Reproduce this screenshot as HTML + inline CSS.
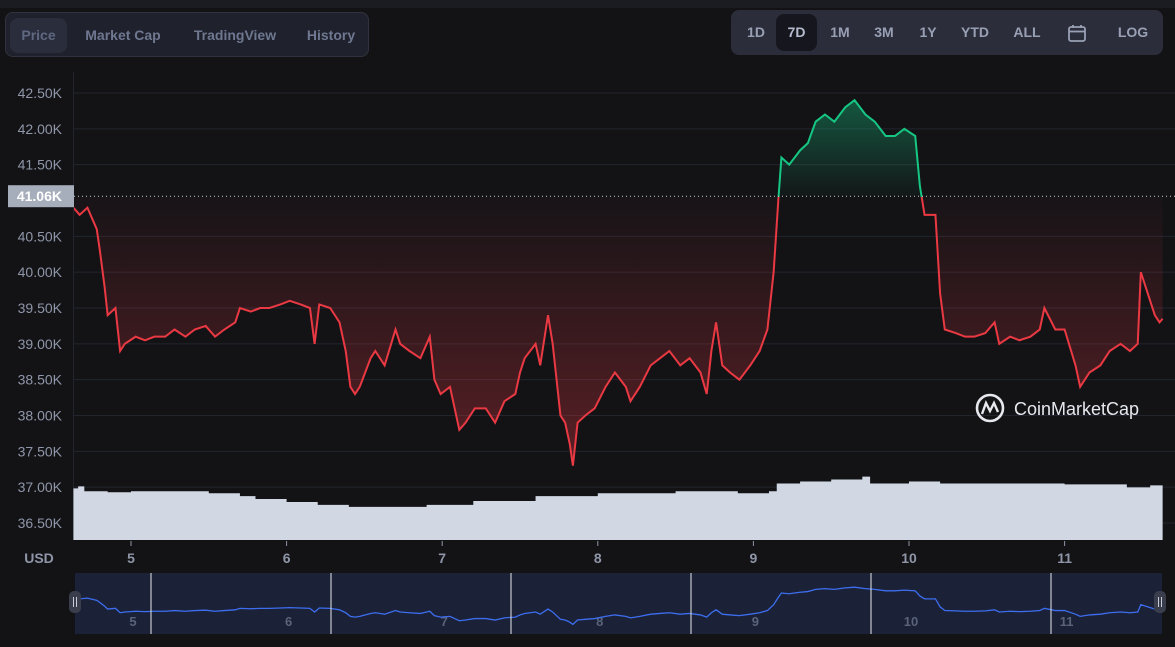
<!DOCTYPE html>
<html><head><meta charset="utf-8"><style>
body{margin:0;background:#131316;width:1175px;height:647px;overflow:hidden;font-family:"Liberation Sans",sans-serif}
.tabs{position:absolute;left:5px;top:12px;width:364px;height:45px;background:#1f212c;border:1px solid #30333f;border-radius:8px;box-sizing:border-box}
.tab{position:absolute;top:5px;height:35px;line-height:35px;font-size:14px;font-weight:bold;color:#6f7891;text-align:center}
.rng{position:absolute;left:731px;top:10px;width:432px;height:45px;background:#2b2d3b;border-radius:8px}
.r{position:absolute;top:4px;height:37px;line-height:37px;font-size:14px;font-weight:bold;color:#99a0b4;text-align:center}
</style></head><body>
<div style="position:absolute;left:0;top:0;width:1175px;height:8px;background:#1b1c22"></div>
<div class="tabs">
<div class="tab" style="left:4px;width:57px;background:#2a2d3c;border-radius:8px;color:#5f6880">Price</div>
<div class="tab" style="left:70px;width:94px">Market Cap</div>
<div class="tab" style="left:180px;width:98px">TradingView</div>
<div class="tab" style="left:292px;width:66px">History</div>
</div>
<div class="rng">
<div class="r" style="left:6px;width:38px">1D</div>
<div class="r" style="left:45px;width:41px;background:#16171e;border-radius:8px;color:#b6bccd">7D</div>
<div class="r" style="left:90px;width:38px">1M</div>
<div class="r" style="left:134px;width:38px">3M</div>
<div class="r" style="left:178px;width:38px">1Y</div>
<div class="r" style="left:222px;width:44px">YTD</div>
<div class="r" style="left:274px;width:44px">ALL</div>
<div class="r" style="left:330px;width:32px"><svg width="20" height="20" viewBox="0 0 20 20" style="vertical-align:middle"><rect x="2" y="4" width="16" height="14" rx="2" fill="none" stroke="#99a0b4" stroke-width="1.8"/><line x1="2" y1="8.5" x2="18" y2="8.5" stroke="#99a0b4" stroke-width="1.8"/><line x1="6" y1="2" x2="6" y2="5" stroke="#99a0b4" stroke-width="1.8"/><line x1="14" y1="2" x2="14" y2="5" stroke="#99a0b4" stroke-width="1.8"/></svg></div>
<div class="r" style="left:380px;width:44px">LOG</div>
</div>
<svg id="chart" width="1175" height="647" style="position:absolute;left:0;top:0">
<defs>
<linearGradient id="gg" gradientUnits="userSpaceOnUse" x1="0" y1="95" x2="0" y2="197"><stop offset="0" stop-color="#16c784" stop-opacity="0.4"/><stop offset="1" stop-color="#16c784" stop-opacity="0.02"/></linearGradient>
<linearGradient id="rg" gradientUnits="userSpaceOnUse" x1="0" y1="197" x2="0" y2="440"><stop offset="0" stop-color="#ea3943" stop-opacity="0.02"/><stop offset="1" stop-color="#ea3943" stop-opacity="0.3"/></linearGradient>
<clipPath id="above"><rect x="74" y="60" width="1100" height="137"/></clipPath>
<clipPath id="below"><rect x="74" y="197" width="1100" height="350"/></clipPath>
</defs>
</svg>
<script>
const days=[4.63,4.67,4.72,4.78,4.80,4.83,4.85,4.90,4.93,4.96,5.03,5.09,5.15,5.22,5.28,5.35,5.41,5.48,5.54,5.60,5.67,5.70,5.77,5.83,5.89,5.96,6.02,6.09,6.15,6.18,6.21,6.28,6.34,6.38,6.41,6.44,6.47,6.54,6.57,6.63,6.70,6.73,6.79,6.86,6.92,6.95,6.99,7.05,7.08,7.11,7.15,7.21,7.28,7.34,7.40,7.47,7.50,7.53,7.60,7.63,7.68,7.71,7.73,7.76,7.79,7.82,7.84,7.87,7.92,7.98,8.05,8.11,8.18,8.21,8.27,8.34,8.40,8.46,8.53,8.59,8.66,8.70,8.73,8.76,8.80,8.85,8.91,8.98,9.04,9.09,9.13,9.16,9.18,9.23,9.30,9.35,9.40,9.46,9.52,9.59,9.65,9.72,9.78,9.85,9.91,9.97,10.04,10.07,10.10,10.17,10.20,10.23,10.30,10.36,10.42,10.49,10.55,10.58,10.65,10.71,10.78,10.84,10.87,10.94,11.00,11.07,11.10,11.16,11.23,11.29,11.36,11.42,11.47,11.49,11.52,11.58,11.61,11.63];
const prices=[40900,40800,40900,40600,40300,39800,39400,39500,38900,39000,39100,39050,39100,39100,39200,39100,39200,39250,39100,39200,39300,39500,39450,39500,39500,39550,39600,39550,39500,39000,39550,39500,39300,38900,38400,38300,38400,38800,38900,38700,39200,39000,38900,38800,39100,38500,38300,38400,38100,37800,37900,38100,38100,37900,38200,38300,38600,38800,39000,38700,39400,39000,38600,38000,37900,37600,37300,37900,38000,38100,38400,38600,38400,38200,38400,38700,38800,38900,38700,38800,38600,38300,38900,39300,38700,38600,38500,38700,38900,39200,40000,41000,41600,41500,41700,41800,42100,42200,42100,42300,42400,42200,42100,41900,41900,42000,41900,41200,40800,40800,39700,39200,39150,39100,39100,39150,39300,39000,39100,39050,39100,39200,39500,39200,39200,38700,38400,38600,38700,38900,39000,38900,39000,40000,39800,39400,39300,39350];
const volDays=[4.63,4.66,4.70,4.85,5.0,5.2,5.5,5.7,5.8,6.0,6.2,6.4,6.7,6.9,7.2,7.6,8.0,8.5,8.9,9.1,9.15,9.3,9.5,9.7,9.75,10.0,10.2,10.5,11.0,11.4,11.55,11.63];
const volumes=[26.5,27.5,25,24.5,25,25,24,22.5,21,19.5,18,17,17,18,20,22.5,24,25,24,25,29,30,31,32.5,29,30,29,29,28.5,27,28,27];
const yTicks=[42500,42000,41500,41000,40500,40000,39500,39000,38500,38000,37500,37000,36500];
const yLabels=["42.50K","42.00K","41.50K","41.06K","40.50K","40.00K","39.50K","39.00K","38.50K","38.00K","37.50K","37.00K","36.50K"];
const xTicks=[5,6,7,8,9,10,11];
const refPrice=41060;
const S="http://www.w3.org/2000/svg",svg=document.getElementById('chart');
const X=d=>131+(d-5)*155.6;
const Y=p=>93+(42500-p)*0.07167;
const NY=p=>612-(p-39000)*0.0073;
const VH=v=>v*1.95;
function mk(t,a,p){const e=document.createElementNS(S,t);for(const k in a)e.setAttribute(k,a[k]);(p||svg).appendChild(e);return e;}
yTicks.forEach((v,i)=>{
 if(i===3)return;
 const g=mk('line',{x1:74,x2:1175,y1:Y(v),y2:Y(v),stroke:'#23252e','stroke-width':1});
 
 
 const t=mk('text',{x:62,y:Y(v)+5,'text-anchor':'end','font-size':14,fill:'#8f96a8','font-family':'Liberation Sans'});
 t.textContent=yLabels[i];
 
 
});
mk('line',{x1:73.5,x2:73.5,y1:72,y2:540,stroke:'#23252e'});
let vp='M'+X(volDays[0])+',540';
volDays.forEach((d,i)=>{vp+=' L'+X(d)+','+(540-VH(volumes[i]));if(i<volDays.length-1)vp+=' L'+X(volDays[i+1])+','+(540-VH(volumes[i]));});
vp+=' L'+X(volDays[volDays.length-1])+',540Z';
const va=mk('path',{d:vp,fill:'#d1d8e4'});


const pts=days.map((d,i)=>X(d)+','+Y(prices[i]));
const by=Y(refPrice);
const area='M'+X(days[0])+','+by+' L'+pts.join(' L')+' L'+X(days[days.length-1])+','+by+'Z';
const ga=mk('path',{d:area,fill:'url(#gg)','clip-path':'url(#above)'});


const ra=mk('path',{d:area,fill:'url(#rg)','clip-path':'url(#below)'});


const gl=mk('polyline',{points:pts.join(' '),fill:'none',stroke:'#16c784','stroke-width':2,'clip-path':'url(#above)'});


const rl=mk('polyline',{points:pts.join(' '),fill:'none',stroke:'#ea3943','stroke-width':2,'clip-path':'url(#below)'});


const dl=mk('line',{x1:74,x2:1175,y1:by,y2:by,stroke:'#c9ccd6','stroke-dasharray':'1 3'});


const bx=mk('rect',{x:8,y:by-11,width:66,height:22,fill:'#a6adbb'});


const bt=mk('text',{x:62,y:by+5,'text-anchor':'end','font-size':14,'font-weight':'bold',fill:'#fff','font-family':'Liberation Sans'});
bt.textContent=yLabels[3];


xTicks.forEach(d=>{
 mk('line',{x1:X(d),x2:X(d),y1:541,y2:546,stroke:'#8f96a8'});
 const t=mk('text',{x:X(d),y:563,'text-anchor':'middle','font-size':14,'font-weight':'bold',fill:'#8f96a8','font-family':'Liberation Sans'});
 t.textContent=d;
 
 
});
const u=mk('text',{x:39,y:563,'text-anchor':'middle','font-size':14,'font-weight':'bold',fill:'#8f96a8','font-family':'Liberation Sans'});
u.textContent='USD';


const nb=mk('rect',{x:75,y:573,width:1087,height:61,fill:'#1b2136'});


xTicks.forEach(d=>{
 const t=mk('text',{x:X(d)+2,y:626,'text-anchor':'middle','font-size':13,'font-weight':'bold',fill:'#5a6379','font-family':'Liberation Sans'});
 t.textContent=d;
 
 
});
const nl=mk('polyline',{points:days.map((d,i)=>X(d)+','+NY(prices[i])).join(' '),fill:'none',stroke:'#3d6ef0','stroke-width':1.3});


[151,331,511,691,871,1051].forEach(x=>mk('line',{x1:x,x2:x,y1:573,y2:634,stroke:'#e8eaf0','stroke-width':1}));
[75,1160].forEach(x=>{
 const h=mk('rect',{x:x-6,y:591,width:12,height:22,rx:5,fill:'#3a3e4c'});
 
 
 mk('line',{x1:x-1.5,x2:x-1.5,y1:597,y2:607,stroke:'#c8ccd6'});
 mk('line',{x1:x+1.5,x2:x+1.5,y1:597,y2:607,stroke:'#c8ccd6'});
});
const wm=mk('g',{});


mk('circle',{cx:990,cy:408,r:13,fill:'none',stroke:'#e6e8ee','stroke-width':2.6},wm);
mk('path',{d:'M982,414 L986,403 L990,411 L994,403 L998,412',fill:'none',stroke:'#e6e8ee','stroke-width':2.4},wm);
const wt=mk('text',{x:1014,y:415,'font-size':18,fill:'#e6e8ee','font-family':'Liberation Sans'},wm);
wt.textContent='CoinMarketCap';
</script>
</body></html>
